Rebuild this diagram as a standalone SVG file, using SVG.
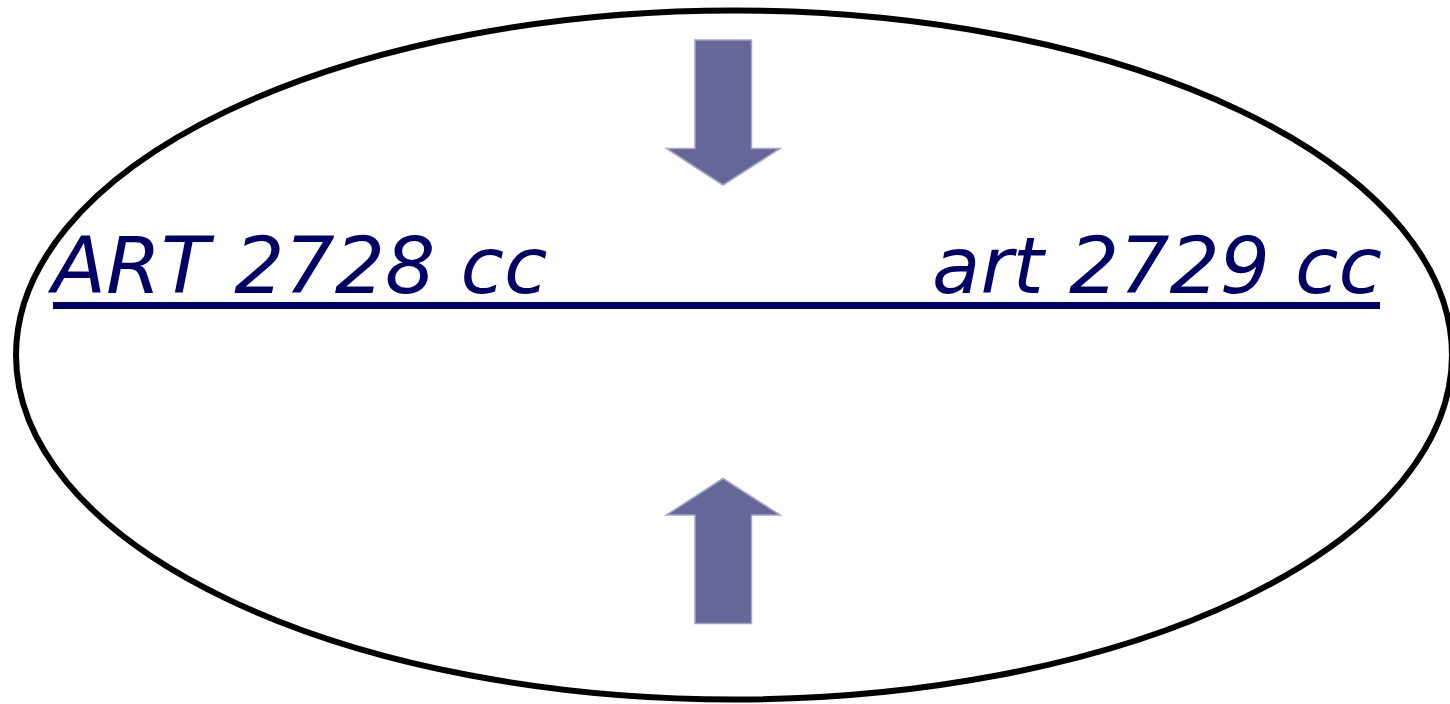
<svg xmlns="http://www.w3.org/2000/svg" width="1450" height="704" viewBox="0 0 1450 704">
<style>
.lbl{font-family:"DejaVu Sans",sans-serif;font-style:italic;font-size:79px;fill:#000066}
.arr{fill:#666699;stroke:#a3a3cc;stroke-width:1.5}
</style>
<rect width="1450" height="704" fill="#ffffff"/>
<g id="ellipse">
<ellipse cx="734" cy="355" rx="718" ry="344.5" fill="none" stroke="#000000" stroke-width="6"/>
</g>
<g id="labels">
<text class="lbl" x="52" y="293">ART 2728 cc</text>
<text class="lbl" x="1382" y="293" text-anchor="end">art 2729 cc</text>
<rect x="53" y="302" width="1327" height="7" fill="#000066"/>
</g>
<g id="connectors">
<polygon id="arrow-down" class="arr" points="695,40 751.5,40 751.5,148.5 780,148.5 723,185 666.5,148.5 695,148.5"/>
<polygon id="arrow-up" class="arr" points="695,623.5 751.5,623.5 751.5,515 780,515 723,478.5 666.5,515 695,515"/>
</g>
</svg>
